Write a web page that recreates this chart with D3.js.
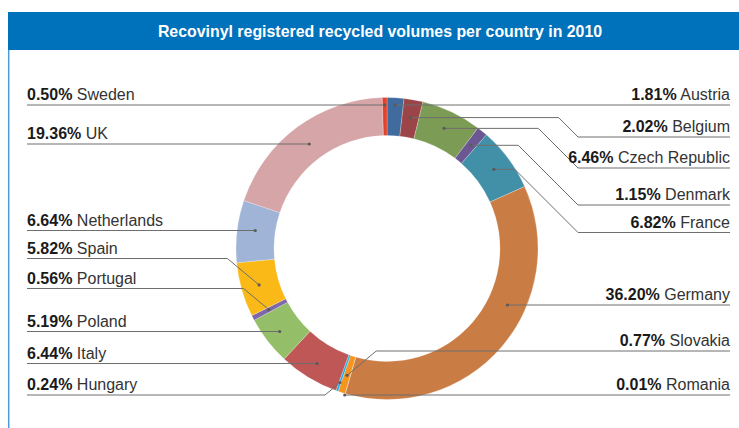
<!DOCTYPE html>
<html>
<head>
<meta charset="utf-8">
<script src="https://cdn.jsdelivr.net/npm/d3@7"></script>
<style>
  html, body { margin: 0; padding: 0; background: #fff; }
  svg { display: block; font-family: 'Liberation Sans', Arial, Helvetica, sans-serif; }
</style>
</head>
<body>
<div id="chart"></div>
<script>
// data, in the order the slices run clockwise from 12 o'clock
const countries = ['Austria', 'Belgium', 'Czech Republic', 'Denmark', 'France', 'Germany', 'Romania', 'Slovakia',
  'Hungary', 'Italy', 'Poland', 'Portugal', 'Spain', 'Netherlands', 'UK', 'Sweden']
const shares = [1.81, 2.02, 6.46, 1.15, 6.82, 36.20, 0.01, 0.77, 0.24, 6.44, 5.19, 0.56, 5.82, 6.64, 19.36, 0.50]
const title = 'Recovinyl registered recycled volumes per country in 2010'

// slice colours
const palette = ['#3f6b9f', '#9c4549', '#7c9c56', '#6b5792', '#4190a8', '#c97d45', '#8c8c8c', '#f7941e',
  '#19b1ea', '#bf5757', '#94be67', '#7f68a9', '#fbb917', '#a0b4d7', '#d6a5a8', '#e2412a']

// label placement (side + y of the underline)
const labelLayout = {
  'Sweden': { side: 'left', y: 105 },
  'UK': { side: 'left', y: 144 },
  'Netherlands': { side: 'left', y: 230.5 },
  'Spain': { side: 'left', y: 258.5 },
  'Portugal': { side: 'left', y: 288.5 },
  'Poland': { side: 'left', y: 331.5 },
  'Italy': { side: 'left', y: 363.5 },
  'Hungary': { side: 'left', y: 395 },
  'Austria': { side: 'right', y: 105 },
  'Belgium': { side: 'right', y: 137 },
  'Czech Republic': { side: 'right', y: 168 },
  'Denmark': { side: 'right', y: 205 },
  'France': { side: 'right', y: 232.5 },
  'Germany': { side: 'right', y: 305 },
  'Slovakia': { side: 'right', y: 351 },
  'Romania': { side: 'right', y: 395 }
}

const W = 739, H = 428
const cx = 387, cy = 248.5
const outerR = 151, innerR = 113, dotR = 133
const leftX = 27, rightX = 730, bendX = 578

const data = countries.map((c, i) => ({ country: c, value: shares[i] }))

const svg = d3.select('#chart')
  .append('svg')
  .attr('width', W)
  .attr('height', H)

// header bar + left rule
svg.append('rect')
  .attr('x', 8).attr('y', 12)
  .attr('width', W - 8).attr('height', 38)
  .attr('fill', '#0071bb')
svg.append('line')
  .attr('x1', 8.7).attr('x2', 8.7)
  .attr('y1', 50).attr('y2', H)
  .attr('stroke', '#4f9ad8')
  .attr('stroke-width', 1.5)
svg.append('text')
  .attr('x', 380).attr('y', 36.5)
  .attr('text-anchor', 'middle')
  .attr('fill', '#fff')
  .style('font-size', '15.9px')
  .style('font-weight', 'bold')
  .text(title)

const color = d3.scaleOrdinal().domain(countries).range(palette)

const pie = d3.pie().sort(null).value(d => d.value)
const arcs = pie(data)
const arc = d3.arc().innerRadius(innerR).outerRadius(outerR)

const g = svg.append('g').attr('transform', 'translate(' + cx + ',' + cy + ')')
g.selectAll('path')
  .data(arcs)
  .join('path')
  .attr('d', arc)
  .attr('fill', d => color(d.data.country))
  .attr('stroke', '#fff')
  .attr('stroke-width', 0.4)
  .attr('stroke-opacity', 0.6)

function pt(a, r) {
  return [cx + r * Math.sin(a), cy - r * Math.cos(a)]
}

// works out the dot + leader line for a slice, excel style
function leader(d) {
  const L = labelLayout[d.data.country]
  const endX = L.side === 'left' ? leftX : rightX
  const mid = (d.startAngle + d.endAngle) / 2

  // straight across if the label line runs through the slice on its mid ray
  const c = Math.cos(mid)
  if (Math.abs(c) > 1e-6) {
    const r = (cy - L.y) / c
    if (r >= innerR + 8 && r <= outerR + 2) {
      const p = pt(mid, r)
      return { dot: p, pts: [p, [endX, L.y]] }
    }
  }
  // or slide along the slice at the mid radius
  const cosA = (cy - L.y) / dotR
  if (Math.abs(cosA) <= 1) {
    const a1 = Math.acos(cosA)
    for (const a of [a1, 2 * Math.PI - a1]) {
      if (a >= d.startAngle && a <= d.endAngle) {
        const p = pt(a, dotR)
        return { dot: p, pts: [p, [endX, L.y]] }
      }
    }
  }
  // otherwise a bent line (thin slices get their dot further out)
  const p = pt(mid, (d.endAngle - d.startAngle) < 0.02 ? dotR + 9 : dotR)
  const dy = Math.abs(L.y - p[1])
  let x1 = p[0]
  let x2 = p[0] + (L.side === 'right' ? 1 : -1) * 1.2 * dy
  if (L.side === 'right' && p[1] < cy) {
    x2 = Math.max(x2, bendX)
    x1 = x2 - dy
  }
  return { dot: p, pts: [p, [x1, p[1]], [x2, L.y], [endX, L.y]] }
}

const leaders = arcs.map(d => ({ d: d, l: leader(d) }))

svg.append('g')
  .selectAll('path')
  .data(leaders)
  .join('path')
  .attr('d', o => d3.line()(o.l.pts))
  .attr('fill', 'none')
  .attr('stroke', '#6e6e6e')
  .attr('stroke-width', 1)

svg.append('g')
  .selectAll('circle')
  .data(leaders)
  .join('circle')
  .attr('cx', o => o.l.dot[0])
  .attr('cy', o => o.l.dot[1])
  .attr('r', 1.6)
  .attr('fill', '#5a5a5a')

// labels
const labels = svg.append('g')
  .selectAll('text')
  .data(arcs)
  .join('text')
  .attr('x', d => labelLayout[d.data.country].side === 'left' ? leftX : rightX)
  .attr('y', d => labelLayout[d.data.country].y - 5)
  .attr('text-anchor', d => labelLayout[d.data.country].side === 'left' ? 'start' : 'end')
  .style('font-size', '16px')

labels.append('tspan')
  .attr('font-weight', 'bold')
  .attr('fill', '#1a1a1a')
  .text(d => d.data.value.toFixed(2) + '%')
labels.append('tspan')
  .attr('fill', '#333')
  .text(d => ' ' + d.data.country)
</script>
</body>
</html>
